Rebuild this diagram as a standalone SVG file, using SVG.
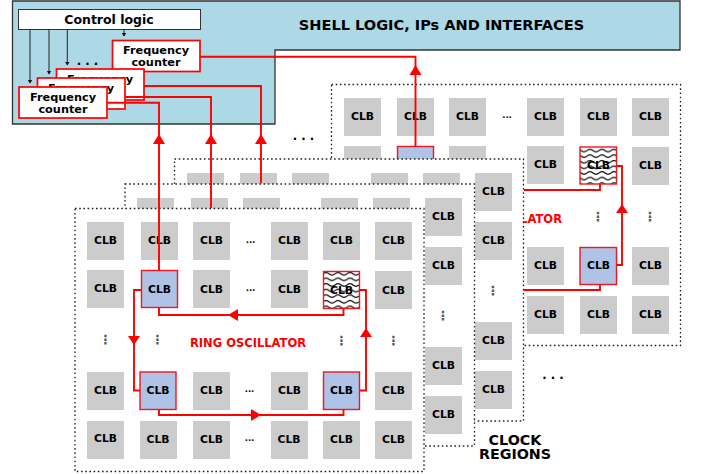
<svg xmlns="http://www.w3.org/2000/svg" width="701" height="474" viewBox="0 0 701 474">
<style>
text{font-family:"DejaVu Sans","Liberation Sans",sans-serif;font-weight:bold;fill:#000;text-anchor:middle}
.c{fill:#ccc}
.t{font-size:10.8px}
.b{fill:#aec3e6;stroke:#f4141c;stroke-width:1.4}
.w{fill:url(#wave);stroke:#f4141c;stroke-width:1.4}
.p{fill:#fff;stroke:#222;stroke-width:1.3;stroke-dasharray:1.6 2.6}
.d{font-size:8.5px}
.v{font-size:12.500px;fill:#555}
.l{font-size:11.7px}
.fc{fill:#fff;stroke:#f00;stroke-width:1.7}
.ft{font-size:11.3px}
.r{fill:none;stroke:#f00;stroke-width:1.9}
.k{fill:none;stroke:#222;stroke-width:1}
.ro{font-size:11.500px;fill:#f00}
</style>
<defs>
<pattern id="wave" width="12" height="5.6" patternUnits="userSpaceOnUse" x="323" y="271">
<rect width="12" height="5.6" fill="#fff"/>
<path d="M0 2.8Q3 .4 6 2.8T12 2.8" fill="none" stroke="#000" stroke-width="1.100"/>
</pattern>
<marker id="ak" markerUnits="userSpaceOnUse" markerWidth="5" markerHeight="6" refX="3.5" refY="2.5" orient="auto"><path d="M0 0L4 2.5L0 5Z" fill="#111"/></marker>
</defs>
<g id="shell"><path d="M12.5 1H680V50H275V124H12.5Z" fill="#add8e6" stroke="#333" stroke-width="1.3"/><text x="441.5" y="30" font-size="14.550px">SHELL LOGIC, IPs AND INTERFACES</text></g>

<g id="region-4">
<rect class="p" x="331.5" y="84.5" width="349" height="261"/>
<rect class="c" x="344" y="98" width="37" height="38"/><text class="t" x="362.5" y="120">CLB</text>
<rect class="c" x="397" y="98" width="37" height="38"/><text class="t" x="415.5" y="120">CLB</text>
<rect class="c" x="449" y="98" width="37" height="38"/><text class="t" x="467.5" y="120">CLB</text>
<text class="d" x="507" y="118">...</text>
<rect class="c" x="527" y="98" width="37" height="38"/><text class="t" x="545.5" y="120">CLB</text>
<rect class="c" x="580" y="98" width="37" height="38"/><text class="t" x="598.5" y="120">CLB</text>
<rect class="c" x="632" y="98" width="37" height="38"/><text class="t" x="650.5" y="120">CLB</text>
<rect class="c" x="344" y="146" width="37" height="38"/>
<rect class="b" x="397.5" y="146.5" width="36" height="37"/>
<rect class="c" x="449" y="146" width="37" height="38"/>
<rect class="c" x="527" y="146" width="37" height="38"/><text class="t" x="545.5" y="168">CLB</text>
<rect class="w" x="580" y="147" width="36.500" height="37"/><text class="t" x="598.5" y="169">CLB</text>
<rect class="c" x="632" y="147" width="37" height="38"/><text class="t" x="650.5" y="169">CLB</text>
<text class="ro" x="562" y="223" style="text-anchor:end">LATOR</text>
<text class="v" x="598" y="221">⋮</text><text class="v" x="650" y="221">⋮</text>
<rect class="c" x="527" y="247" width="37" height="38"/><text class="t" x="545.5" y="269">CLB</text>
<rect class="b" x="580" y="247.500" width="36.500" height="37"/><text class="t" x="598.500" y="269">CLB</text>
<rect class="c" x="632" y="247" width="37" height="38"/><text class="t" x="650.5" y="269">CLB</text>
<rect class="c" x="527" y="296" width="37" height="38"/><text class="t" x="545.5" y="318">CLB</text>
<rect class="c" x="580" y="296" width="37" height="38"/><text class="t" x="598.5" y="318">CLB</text>
<rect class="c" x="632" y="296" width="37" height="38"/><text class="t" x="650.5" y="318">CLB</text>
</g>

<g id="region-3">
<rect class="p" x="174.500" y="159" width="349" height="262"/>
<rect class="c" x="187" y="173" width="37" height="12"/>
<rect class="c" x="240" y="173" width="37" height="12"/>
<rect class="c" x="292" y="173" width="37" height="12"/>
<rect class="c" x="371" y="173" width="37" height="12"/>
<rect class="c" x="423" y="173" width="37" height="12"/>
<rect class="c" x="475" y="173" width="37" height="38"/><text class="t" x="493.5" y="195">CLB</text>
<rect class="c" x="475" y="222" width="37" height="38"/><text class="t" x="493.500" y="244">CLB</text>
<text class="v" x="493" y="295">⋮</text>
<rect class="c" x="475" y="322" width="37" height="38"/><text class="t" x="493.5" y="344">CLB</text>
<rect class="c" x="475" y="371" width="37" height="38"/><text class="t" x="493.5" y="393">CLB</text>
</g>

<g id="region-2">
<rect class="p" x="125" y="184" width="349.500" height="262"/>
<rect class="c" x="137" y="198" width="37" height="11"/>
<rect class="c" x="191" y="198" width="37" height="11"/>
<rect class="c" x="243" y="198" width="37" height="11"/>
<rect class="c" x="321" y="198" width="37" height="11"/>
<rect class="c" x="373" y="198" width="37" height="11"/>
<rect class="c" x="425" y="198" width="37" height="38"/><text class="t" x="443.5" y="220">CLB</text>
<rect class="c" x="425" y="247" width="37" height="38"/><text class="t" x="443.5" y="269">CLB</text>
<text class="v" x="443" y="320">⋮</text>
<rect class="c" x="425" y="347" width="37" height="38"/><text class="t" x="443.5" y="369">CLB</text>
<rect class="c" x="425" y="396" width="37" height="38"/><text class="t" x="443.5" y="418">CLB</text>
</g>

<g id="region-1">
<rect class="p" x="75" y="208.500" width="349" height="263"/>
<g id="n11"><rect class="c" x="87" y="222" width="37" height="38"/><text class="t" x="105.500" y="244">CLB</text></g>
<g id="n12"><rect class="c" x="141" y="222" width="37" height="38"/><text class="t" x="159.500" y="244">CLB</text></g>
<g id="n13"><rect class="c" x="193" y="222" width="37" height="38"/><text class="t" x="211.500" y="244">CLB</text></g>
<text class="d" x="250.500" y="243">...</text>
<g id="n14"><rect class="c" x="271" y="222" width="37" height="38"/><text class="t" x="289.500" y="244">CLB</text></g>
<g id="n15"><rect class="c" x="323" y="222" width="37" height="38"/><text class="t" x="341.500" y="244">CLB</text></g>
<g id="n16"><rect class="c" x="375" y="222" width="37" height="38"/><text class="t" x="393.500" y="244">CLB</text></g>
<g id="n21"><rect class="c" x="87" y="270" width="37" height="38"/><text class="t" x="105.500" y="292">CLB</text></g>
<g id="n22"><rect class="b" x="141.500" y="270.500" width="36" height="37"/><text class="t" x="159.500" y="293">CLB</text></g>
<g id="n23"><rect class="c" x="193" y="270" width="37" height="38"/><text class="t" x="211.500" y="293">CLB</text></g>
<text class="d" x="250.500" y="291">...</text>
<g id="n24"><rect class="c" x="271" y="270" width="37" height="38"/><text class="t" x="289.500" y="293">CLB</text></g>
<g id="n25"><rect class="w" x="323.500" y="271.500" width="36" height="37"/><text class="t" x="341.500" y="294">CLB</text></g>
<g id="n26"><rect class="c" x="375" y="271" width="37" height="38"/><text class="t" x="393.500" y="294">CLB</text></g>
<text class="v" x="105.500" y="344">⋮</text><text class="v" x="157.500" y="344">⋮</text>
<text class="ro" x="248" y="347">RING OSCILLATOR</text>
<text class="v" x="341.500" y="345">⋮</text><text class="v" x="393.500" y="345">⋮</text>
<g id="n31"><rect class="c" x="87" y="372" width="37" height="38"/><text class="t" x="105.500" y="394">CLB</text></g>
<g id="n32"><rect class="b" x="140" y="372" width="36" height="37.500"/><text class="t" x="158" y="394">CLB</text></g>
<g id="n33"><rect class="c" x="193" y="372" width="37" height="38"/><text class="t" x="211.500" y="394">CLB</text></g>
<text class="d" x="249.500" y="392">...</text>
<g id="n34"><rect class="c" x="271" y="372" width="37" height="38"/><text class="t" x="289.500" y="394">CLB</text></g>
<g id="n35"><rect class="b" x="323.500" y="372" width="36" height="37.500"/><text class="t" x="341.500" y="394">CLB</text></g>
<g id="n36"><rect class="c" x="375" y="372" width="37" height="38"/><text class="t" x="393.500" y="394">CLB</text></g>
<g id="n41"><rect class="c" x="87" y="421" width="37" height="38"/><text class="t" x="105.500" y="442">CLB</text></g>
<g id="n42"><rect class="c" x="140" y="421" width="37" height="38"/><text class="t" x="158" y="443">CLB</text></g>
<g id="n43"><rect class="c" x="193" y="421" width="37" height="38"/><text class="t" x="211.500" y="443">CLB</text></g>
<text class="d" x="249.500" y="441">...</text>
<g id="n44"><rect class="c" x="271" y="421" width="37" height="38"/><text class="t" x="289" y="443">CLB</text></g>
<g id="n45"><rect class="c" x="323" y="421" width="37" height="38"/><text class="t" x="341.500" y="443">CLB</text></g>
<g id="n46"><rect class="c" x="375" y="421" width="37" height="38"/><text class="t" x="393.500" y="443">CLB</text></g>
</g>

<text class="l" x="303.500" y="140">. . .</text>
<text class="l" x="553" y="379">. . .</text>
<text class="l" x="87.500" y="65">. . .</text>
<g id="clock-regions"><text x="515" y="445" font-size="14.300px">CLOCK</text><text x="515" y="459" font-size="14.300px">REGIONS</text></g>

<g id="control-logic"><rect x="18.500" y="9.500" width="182" height="20" fill="#fff" stroke="#333" stroke-width="1"/><text x="109" y="23.500" font-size="12.500px">Control logic</text></g>
<g id="fc-1"><rect class="fc" x="112.500" y="40.500" width="87.500" height="31"/><text class="ft" x="156" y="54">Frequency</text><text class="ft" x="156" y="66">counter</text></g>
<g id="fc-2"><rect class="fc" x="56.500" y="69" width="87.500" height="31"/><text class="ft" x="100" y="83">Frequency</text></g>
<g id="fc-3"><rect class="fc" x="37.500" y="78" width="87.500" height="31"/><text class="ft" x="81" y="92">Frequency</text></g>
<g id="fc-4"><rect class="fc" x="19" y="87" width="88" height="31"/><text class="ft" x="63" y="101">Frequency</text><text class="ft" x="63" y="113">counter</text></g>

<g id="connectors">
<path class="k" d="M30 30V83" marker-end="url(#ak)"/>
<path class="k" d="M49 30V74" marker-end="url(#ak)"/>
<path class="k" d="M67.300 30V65" marker-end="url(#ak)"/>
<path class="k" d="M124 30V36" marker-end="url(#ak)"/>
<path class="r" d="M200 56.700H415.500V146"/>
<path class="r" d="M144 86H261V183"/>
<path class="r" d="M125 97H211V208"/>
<path class="r" d="M107 102.700H159V270"/>
<g fill="#f00">
<path d="M415.500 65l6 10h-12z"/>
<path d="M261 134l6 10h-12z"/>
<path d="M211 134l6 10h-12z"/>
<path d="M159 134l6 10h-12z"/>
<path d="M622 204l6 9h-12z"/>
<path d="M228 315l10-6v12z"/>
<path d="M134 345l-6-9h12z"/>
<path d="M261 415l-10-6v12z"/>
<path d="M366 328l6 9h-12z"/>
</g>
<path class="r" d="M600 184V190H524"/>
<path class="r" d="M617 166H622V265H617"/>
<path class="r" d="M600 285V290H524"/>
<path class="r" d="M159 308V315H343.500V309"/>
<path class="r" d="M141 290H134V390.500H140"/>
<path class="r" d="M159 410V415H343.500V410"/>
<path class="r" d="M360 390.500H366V290H360"/>
</g>
</svg>
